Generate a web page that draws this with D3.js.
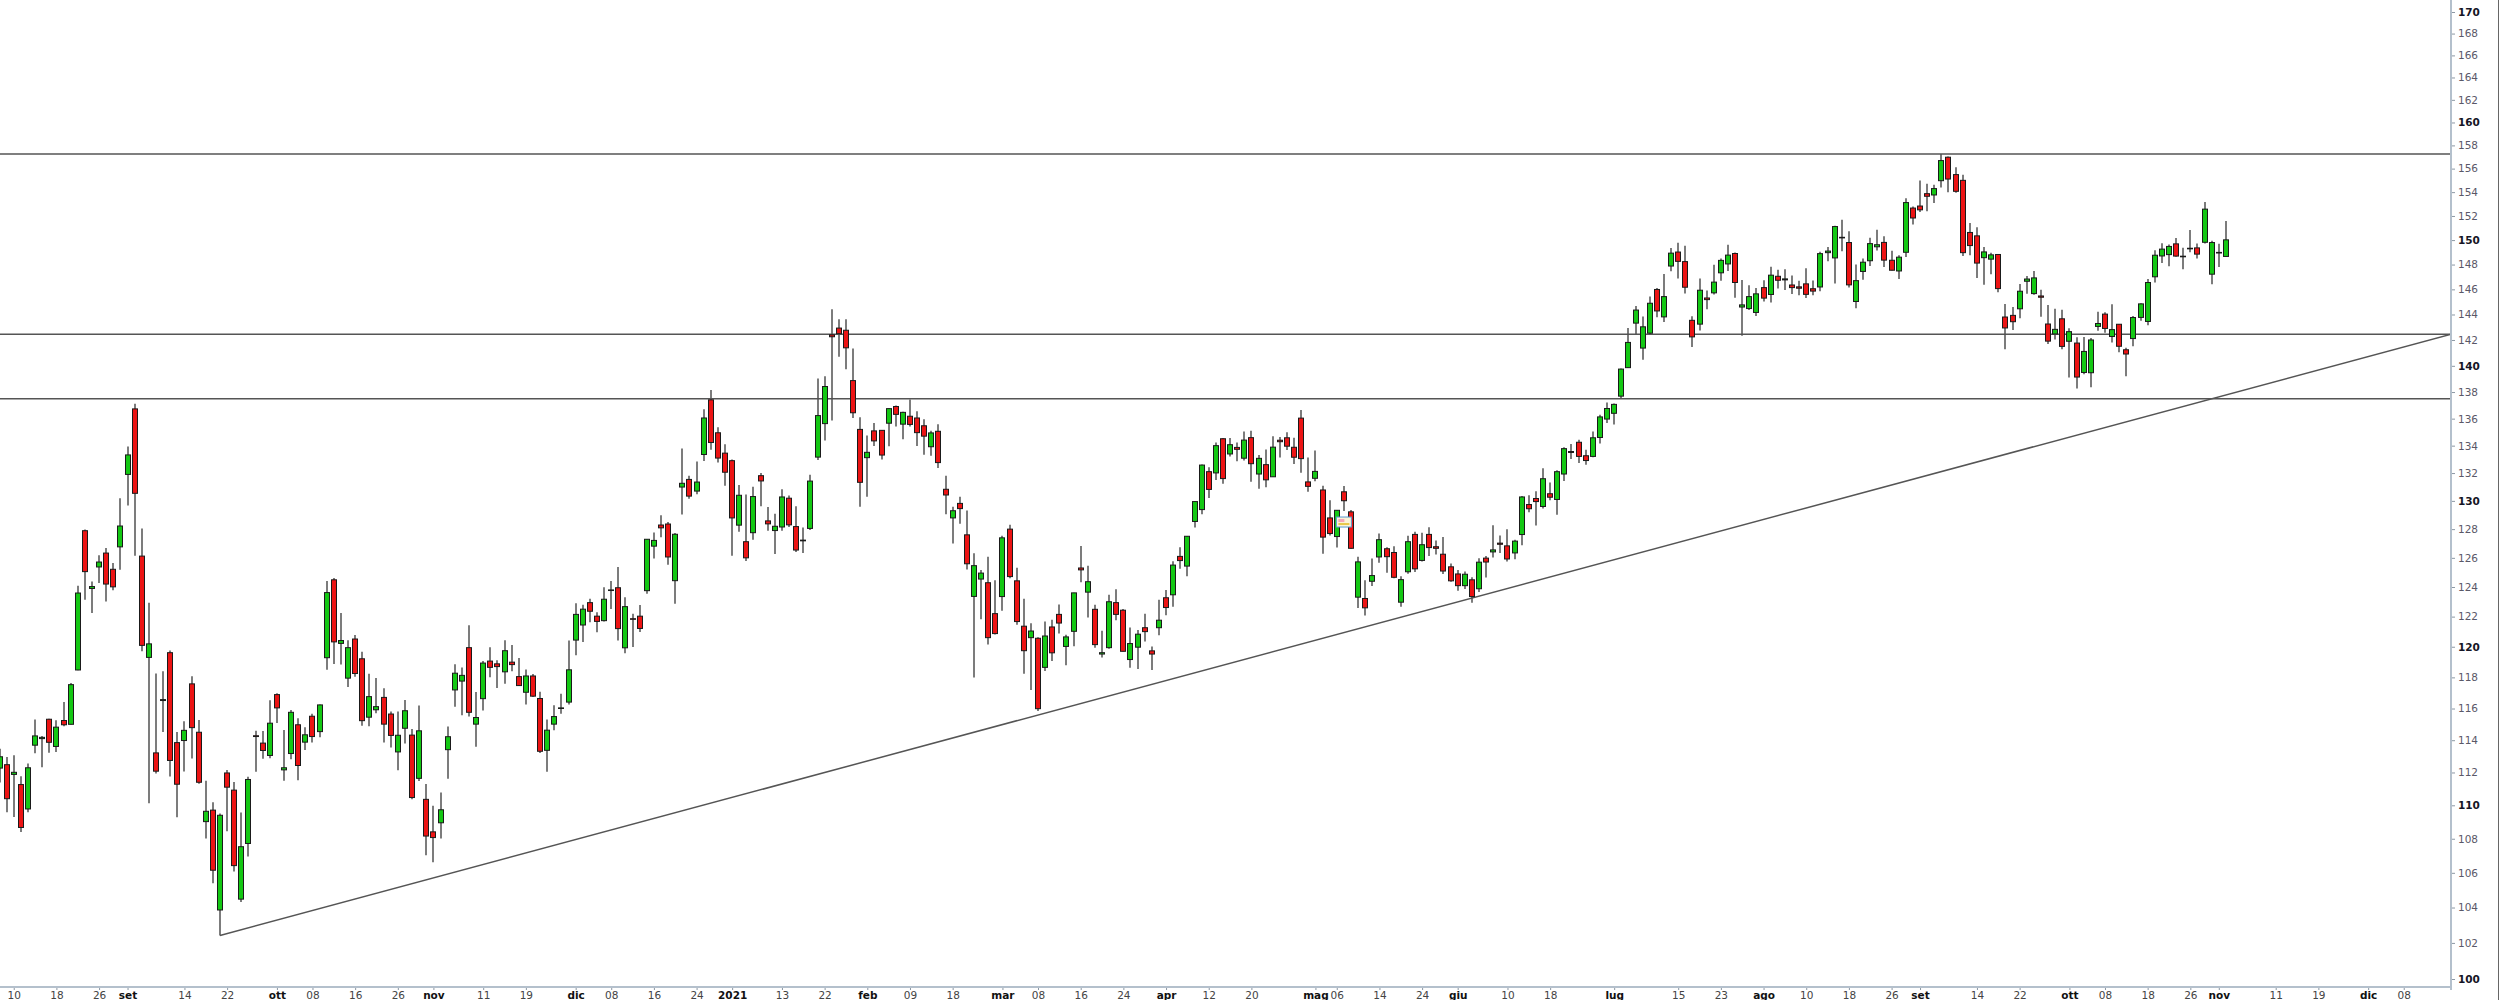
<!DOCTYPE html>
<html><head><meta charset="utf-8">
<script src="https://cdn.jsdelivr.net/npm/d3@7"></script>
<style>
body{margin:0;background:#fff}
svg{display:block;font-family:"DejaVu Sans",Verdana,sans-serif}
</style>
</head><body>
<svg id="c" width="2500" height="1000"></svg>
<script>
// ---- daily candles: [day, open, high, low, close] ----
const aug2020 = [
[6,112.27,113.46,111.38,112.97],[7,112.48,112.95,109.58,110.40],[10,111.88,113.06,109.30,112.01],
[11,111.26,111.77,108.40,108.67],[12,109.78,112.56,109.58,112.29],[13,113.69,115.30,113.19,114.27],
[14,114.10,114.27,112.32,114.18],[17,115.32,115.35,113.22,113.87],[18,113.61,115.26,113.27,114.82],
[19,115.24,116.42,114.87,114.97],[20,115.00,117.64,114.98,117.53],[21,118.48,124.09,118.47,123.59],
[24,127.89,127.98,123.13,125.05],[25,123.90,124.38,122.25,124.03],[26,125.37,126.18,124.27,125.71],
[27,126.33,126.68,123.02,124.20],[28,125.21,125.64,123.78,124.01],[31,126.76,130.18,125.18,128.22]];
const sep2020 = [
[1,131.90,133.94,129.67,133.32],[2,136.73,137.12,126.14,130.54],[3,126.12,128.05,119.71,120.09],
[4,119.30,122.93,110.12,120.19],[8,113.21,118.25,111.94,112.08],[9,116.51,118.39,114.51,116.57],
[10,119.61,119.75,111.75,112.74],[11,113.85,114.51,109.28,111.28],[14,113.98,115.19,112.06,114.62],
[15,117.58,118.08,112.86,114.79],[16,114.50,115.27,111.31,111.40],[17,109.02,111.50,108.01,109.64],
[18,109.71,110.19,105.40,106.15],[21,103.86,109.51,102.42,109.40],[22,111.97,112.15,108.45,111.10],
[23,110.92,111.41,106.07,106.42],[24,104.48,109.56,104.31,107.53],[25,107.72,111.73,106.96,111.57],
[28,114.28,114.59,112.05,114.23],[29,113.82,114.58,112.84,113.36],[30,113.05,116.52,112.88,115.07]];
const oct2020 = [
[1,116.89,116.97,115.08,116.04],[2,112.16,114.64,111.49,112.29],[5,113.17,115.91,112.81,115.76],
[6,114.97,115.39,111.52,112.43],[7,113.88,114.81,113.39,114.34],[8,115.51,115.66,113.85,114.23],
[9,114.54,116.26,114.18,116.23],[12,119.28,124.40,118.50,123.62],[13,124.49,124.61,118.87,120.32],
[14,120.22,122.25,118.84,120.41],[15,117.95,120.43,117.38,119.94],[16,120.51,120.78,118.04,118.25],
[19,119.21,119.67,114.91,115.23],[20,115.45,118.23,114.88,116.76],[21,115.92,117.96,115.70,116.12],
[22,116.71,117.30,113.85,115.01],[23,115.65,115.81,113.54,114.30],[26,113.27,115.81,112.14,114.31],
[27,114.75,116.54,113.80,115.86],[28,114.32,114.70,110.37,110.47],[29,111.64,116.20,111.47,114.59],
[30,110.36,111.29,107.02,108.16]];
const nov2020 = [
[2,108.41,109.98,106.62,108.07],[3,108.95,110.78,108.02,109.73],[4,113.41,114.86,111.62,114.22],
[5,117.19,118.86,116.11,118.27],[6,117.76,118.64,115.57,118.13],[9,119.94,121.43,115.49,115.76],
[10,115.01,117.05,113.59,115.43],[11,116.63,119.07,115.88,118.93],[12,119.06,119.97,118.01,118.65],
[13,118.88,119.11,117.31,118.70],[16,118.36,120.43,117.59,119.74],[17,118.99,120.11,118.40,118.83],
[18,118.05,119.26,117.44,117.47],[19,117.04,118.51,116.26,118.09],[20,118.09,118.22,116.74,116.79],
[23,116.64,117.08,113.21,113.31],[24,113.37,115.31,112.05,114.63],[25,115.01,116.21,114.63,115.49],
[27,116.02,116.94,115.67,116.04],[30,116.41,120.41,116.25,118.49]];
const dec2020 = [
[1,120.44,122.90,119.44,122.15],[2,121.44,122.79,120.31,122.50],[3,122.94,123.20,121.63,122.36],
[4,122.03,122.29,120.95,121.68],[7,121.73,123.99,121.67,123.17],[8,123.79,124.40,122.51,123.80],
[9,123.95,125.37,120.42,121.20],[10,119.93,123.30,119.58,122.67],[11,121.86,122.19,119.98,121.84],
[14,122.03,122.78,120.97,121.21],[15,123.75,127.31,123.54,127.29],[16,126.81,127.77,125.96,127.21],
[17,128.29,128.97,127.43,128.09],[18,128.36,128.50,125.52,126.06],[21,124.43,127.72,122.86,127.64],
[22,130.99,133.79,129.03,131.26],[23,131.54,131.81,130.16,130.34],[24,130.70,132.84,130.48,131.35],
[28,133.35,136.70,132.87,136.05],[29,137.41,138.15,133.70,134.23],[30,134.95,135.36,132.77,133.09],
[31,133.45,134.11,131.09,132.06]];
const jan2021 = [
[4,132.90,132.99,126.14,128.79],[5,128.28,131.13,127.82,130.40],[6,127.12,130.45,125.78,126.00],
[7,127.75,131.02,127.25,130.31],[8,131.81,132.01,129.61,131.43],[11,128.58,129.56,127.89,128.37],
[12,127.90,129.09,126.26,128.20],[13,128.15,130.84,127.88,130.28],[14,130.19,130.39,128.15,128.30],
[15,128.18,129.62,126.40,126.54],[19,127.18,128.11,126.34,127.23],[20,128.05,131.88,127.94,131.42],
[21,133.16,139.03,132.95,136.23],[22,135.63,139.20,134.37,138.42],[25,142.40,144.42,135.87,142.25],
[26,142.93,143.63,140.70,142.49],[27,142.76,143.63,139.74,141.39],[28,138.87,141.34,136.05,136.44],
[29,135.20,136.11,129.58,131.33]];
const feb2021 = [
[1,133.12,134.75,130.30,133.51],[2,135.09,135.67,133.97,134.35],[3,135.13,135.14,132.98,133.31],
[4,135.66,136.76,133.95,136.75],[5,136.91,136.98,135.42,136.32],[8,135.59,136.52,134.48,136.47],
[9,136.18,137.44,135.41,135.57],[10,136.05,136.56,133.97,134.96],[11,135.47,135.96,133.34,134.70],
[12,133.92,135.10,133.26,134.94],[16,135.06,135.58,132.36,132.76],[17,130.83,131.80,129.05,130.42],
[18,128.79,129.59,127.00,129.30],[19,129.82,130.29,128.38,129.45],[22,127.60,129.31,125.19,125.59],
[23,123.36,126.31,117.99,125.46],[24,124.54,125.16,121.83,124.95],[25,124.29,126.07,120.15,120.60],
[26,122.20,124.46,120.81,120.87]];
const mar2021 = [
[1,123.35,127.53,122.39,127.39],[2,128.00,128.31,124.60,124.71],[3,124.42,125.32,121.45,121.67],
[4,121.36,123.21,118.23,119.74],[5,120.60,121.56,117.19,121.04],[8,120.56,120.63,115.84,115.99],
[9,118.65,121.68,118.41,120.71],[10,121.31,121.79,119.07,119.60],[11,122.15,122.82,120.87,121.57],
[12,120.02,120.79,118.78,120.65],[15,121.02,123.61,120.03,123.60],[16,125.30,126.82,124.32,125.17],
[17,123.65,125.46,121.94,124.36],[18,122.49,122.79,119.93,120.14],[19,119.52,121.05,119.30,119.61],
[22,119.94,123.48,119.87,123.00],[23,122.94,123.85,121.75,122.15],[24,122.43,122.51,119.68,119.70],
[25,119.16,121.28,118.62,120.21],[26,119.97,121.10,118.54,120.83],[29,121.26,122.19,120.34,121.00],
[30,119.73,120.02,118.48,119.52],[31,121.26,123.13,120.76,121.76]];
const apr2021 = [
[1,123.27,123.79,122.10,122.61],[5,123.47,125.76,122.67,125.50],[6,126.10,126.73,125.25,125.81],
[7,125.43,127.52,124.74,127.50],[8,128.54,129.98,128.11,129.95],[9,129.38,132.62,129.05,132.58],
[12,132.10,132.43,130.21,130.82],[13,132.01,134.23,131.50,134.00],[14,134.51,134.57,131.23,131.60],
[15,133.39,134.57,133.21,134.07],[16,133.87,134.24,132.85,133.73],[19,133.08,135.04,132.91,134.41],
[20,134.59,135.10,131.38,132.68],[21,131.93,133.32,130.87,133.07],[22,132.61,133.72,130.98,131.51],
[23,131.73,134.69,131.73,133.89],[26,134.40,134.63,133.13,134.29],[27,134.58,134.98,133.68,133.96],
[28,133.88,134.59,132.65,133.15],[29,136.04,136.64,132.02,133.05],[30,131.36,133.14,130.65,131.04]];
const may2021 = [
[3,131.62,133.65,131.41,132.12],[4,130.78,131.08,126.29,127.44],[5,128.79,130.04,127.56,127.69],
[6,127.48,129.34,126.72,129.33],[7,130.65,131.06,129.28,130.01],[10,129.22,129.35,126.62,126.66],
[11,123.31,126.08,122.58,125.72],[12,123.22,124.46,122.07,122.59],[13,124.39,125.96,124.07,124.78],
[14,126.06,127.70,125.66,127.26],[17,126.63,126.74,124.98,126.08],[18,126.37,126.80,124.59,124.66],
[19,122.97,124.73,122.67,124.50],[20,125.04,127.53,124.91,127.12],[21,127.63,127.81,125.02,125.24],
[24,125.82,127.75,125.75,126.91],[25,127.63,128.13,126.13,126.71],[26,126.77,127.20,126.23,126.66],
[27,126.25,127.45,124.89,125.09],[28,125.38,125.61,124.36,124.42]];
const jun2021 = [
[1,124.89,125.16,123.75,124.09],[2,124.09,125.05,123.86,124.87],[3,124.49,124.66,122.94,123.35],
[4,123.88,125.97,123.66,125.70],[7,125.98,126.13,124.64,125.71],[8,126.41,128.27,126.02,126.55],
[9,127.02,127.56,126.33,126.94],[10,126.83,128.00,125.75,125.92],[11,126.34,127.25,125.91,127.16],
[14,127.62,130.34,126.87,130.28],[15,129.74,130.40,129.19,129.44],[16,130.17,130.69,128.26,129.95],
[17,129.60,132.35,129.45,131.59],[18,130.51,131.31,130.04,130.26],[21,130.10,132.21,129.01,132.10],
[22,131.93,133.88,131.42,133.78],[23,133.57,134.12,133.03,133.50],[24,134.25,134.44,132.73,133.21],
[25,133.26,133.69,132.61,132.91],[28,133.21,135.05,133.15,134.58],[29,134.60,136.29,134.15,136.13],
[30,135.97,137.21,135.67,136.76]];
const jul2021 = [
[1,136.40,137.13,135.56,137.07],[2,137.69,139.79,137.54,139.75],[6,139.86,142.94,139.86,141.81],
[7,143.32,144.67,142.44,144.35],[8,141.37,143.85,140.46,143.03],[9,142.53,145.43,142.43,144.89],
[12,145.99,146.10,143.78,144.28],[13,143.81,147.24,143.41,145.42],[14,147.88,149.35,147.46,148.93],
[15,149.02,149.78,146.87,148.26],[16,148.24,149.54,145.66,146.17],[19,143.54,143.86,141.46,142.24],
[20,143.24,146.88,142.74,145.93],[21,145.31,145.91,144.41,145.18],[22,145.72,147.98,145.59,146.58],
[23,147.33,148.50,146.70,148.34],[26,148.05,149.61,147.48,148.77],[27,148.90,148.99,145.33,146.55],
[28,144.59,146.75,142.32,144.76],[29,144.47,146.33,144.36,145.42],[30,144.16,146.11,143.89,145.64]];
const aug2021 = [
[2,146.14,146.73,145.03,145.30],[3,145.59,147.82,144.96,147.14],[4,147.05,147.57,146.06,146.73],
[5,146.76,147.62,145.95,146.84],[6,146.35,147.11,145.63,146.14],[9,146.20,146.70,145.52,146.09],
[10,146.44,147.71,145.30,145.60],[11,146.05,146.72,145.53,145.86],[12,146.19,149.05,145.84,148.89],
[13,148.97,149.44,148.27,149.10],[16,148.54,151.19,146.47,151.12],[17,150.23,151.68,149.09,150.19],
[18,149.80,150.72,146.15,146.36],[19,145.03,148.00,144.50,146.70],[20,147.44,148.50,146.78,148.19],
[23,148.31,150.19,147.89,149.71],[24,149.45,150.86,149.15,149.62],[25,149.81,150.32,147.80,148.36],
[26,148.35,149.12,147.51,147.54],[27,147.48,148.75,146.83,148.60],[30,149.00,153.49,148.61,153.12],
[31,152.66,152.80,151.29,151.83]];
const sep2021 = [
[1,152.83,154.98,152.34,152.51],[2,153.87,154.72,152.40,153.65],[3,153.76,154.63,153.09,154.30],
[7,154.97,157.26,154.39,156.69],[8,156.98,157.04,153.98,155.11],[9,155.49,156.11,153.95,154.07],
[10,155.00,155.48,148.70,148.97],[13,150.63,151.42,148.75,149.55],[14,150.35,151.07,146.91,148.12],
[15,148.56,149.44,146.37,149.03],[16,148.44,148.97,147.22,148.79],[17,148.82,148.82,145.76,146.06],
[20,143.80,144.84,141.27,142.94],[21,143.93,144.60,142.78,143.43],[22,144.45,146.43,143.70,145.85],
[23,146.65,147.08,145.64,146.83],[24,145.66,147.47,145.56,146.92],[27,145.47,145.96,143.82,145.37],
[28,143.25,144.75,141.69,141.91],[29,142.47,144.45,142.03,142.83],[30,143.66,144.38,141.28,141.50]];
const oct2021 = [
[1,141.90,142.92,139.11,142.65],[4,141.76,142.21,138.27,139.14],[5,139.49,142.24,139.36,141.11],
[6,139.47,142.15,138.37,142.00],[7,143.06,144.22,142.72,143.29],[8,144.03,144.18,142.56,142.90],
[11,142.27,144.81,141.81,142.81],[12,143.23,143.25,141.04,141.51],[13,141.24,141.40,139.20,140.91],
[14,142.11,143.88,141.51,143.76],[15,143.77,144.90,143.51,144.84],[18,143.45,146.84,143.16,146.55],
[19,147.01,149.17,146.55,148.76],[20,148.70,149.75,148.12,149.26],[21,148.81,149.64,147.87,149.48],
[22,149.69,150.18,148.64,148.69],[25,148.68,149.37,147.62,148.64],[26,149.33,150.84,149.01,149.32],
[27,149.36,149.73,148.49,148.85],[28,149.82,153.17,149.72,152.57],[29,147.22,149.94,146.41,149.80]];
const nov2021 = [
[1,148.99,149.70,147.80,148.96],[2,148.66,151.57,148.65,150.02]];

// future (empty) trading days shown on the time axis
const futureNov2021 = [3,4,5,8,9,10,11,12,15,16,17,18,19,22,23,24,26,29,30];
const futureDec2021 = [1,2,3,6,7,8,9,10,13,14,15,16,17];

// x-axis tick labels
const tickDates = ["2020-08-10","2020-08-18","2020-08-26","2020-09-01","2020-09-14","2020-09-22","2020-10-01","2020-10-08","2020-10-16","2020-10-26","2020-11-02","2020-11-11","2020-11-19","2020-12-01","2020-12-08","2020-12-16","2020-12-24","2021-01-04","2021-01-13","2021-01-22","2021-02-01","2021-02-09","2021-02-18","2021-03-01","2021-03-08","2021-03-16","2021-03-24","2021-04-01","2021-04-12","2021-04-20","2021-05-03","2021-05-06","2021-05-14","2021-05-24","2021-06-01","2021-06-10","2021-06-18","2021-07-01","2021-07-15","2021-07-23","2021-08-02","2021-08-10","2021-08-18","2021-08-26","2021-09-01","2021-09-14","2021-09-22","2021-10-01","2021-10-08","2021-10-18","2021-10-26","2021-11-01","2021-11-11","2021-11-19","2021-12-01","2021-12-08"];
const tickLabels = ["10","18","26","set","14","22","ott","08","16","26","nov","11","19","dic","08","16","24","2021","13","22","feb","09","18","mar","08","16","24","apr","12","20","mag","06","14","24","giu","10","18","lug","15","23","ago","10","18","26","set","14","22","ott","08","18","26","nov","11","19","dic","08"];
const boldLabels = ["set","ott","nov","dic","2021","feb","mar","apr","mag","giu","lug","ago"];

// price axis ticks (log scale)
const priceTicks = d3.range(100, 171, 2);

// drawn study lines
const levels = [157.25, 142.45, 137.5];
const trendStart = {date:"2020-09-21", price:102.42};
const trendEnd = {date:"2021-12-17", price:142.5};
const eventMarks = [{date:"2021-05-07", price:128.5}];

// ---- build ----
const months = [["2020-08",aug2020],["2020-09",sep2020],["2020-10",oct2020],["2020-11",nov2020],["2020-12",dec2020],
["2021-01",jan2021],["2021-02",feb2021],["2021-03",mar2021],["2021-04",apr2021],["2021-05",may2021],["2021-06",jun2021],
["2021-07",jul2021],["2021-08",aug2021],["2021-09",sep2021],["2021-10",oct2021],["2021-11",nov2021]];
const pad = d => String(d).padStart(2,"0");
const candles = [];
months.forEach(([ym, rows]) => rows.forEach(r => candles.push({date: ym+"-"+pad(r[0]), o:r[1], h:r[2], l:r[3], c:r[4]})));
const allDates = candles.map(d => d.date)
  .concat(futureNov2021.map(d => "2021-11-"+pad(d)))
  .concat(futureDec2021.map(d => "2021-12-"+pad(d)));
const idx = new Map(allDates.map((d,i) => [d,i]));

const plotRight = 2451, plotBottom = 987;
const x = d3.scaleLinear().domain([0, 313]).range([-0.5, 2225.9]);
const y = d3.scaleLog().domain([100, 170]).range([979, 12]);

const svg = d3.select("#c");
svg.append("rect").attr("width",2500).attr("height",1000).attr("fill","#fff");
svg.append("defs").append("clipPath").attr("id","plot")
  .append("rect").attr("x",0).attr("y",0).attr("width",plotRight).attr("height",plotBottom);

const plot = svg.append("g").attr("clip-path","url(#plot)");

// horizontal levels
plot.selectAll("line.level").data(levels).join("line").attr("class","level")
  .attr("x1",0).attr("x2",plotRight)
  .attr("y1",d=>y(d)).attr("y2",d=>y(d))
  .attr("stroke","#555").attr("stroke-width",1.5);

// trend line
plot.append("line")
  .attr("x1", x(idx.get(trendStart.date))).attr("y1", y(trendStart.price))
  .attr("x2", x(idx.get(trendEnd.date))).attr("y2", y(trendEnd.price))
  .attr("stroke","#555").attr("stroke-width",1.5);

// candles
const cg = plot.append("g");
const cx = d => Math.round(x(idx.get(d.date)));
cg.selectAll("line.wick").data(candles).join("line").attr("class","wick")
  .attr("x1",cx).attr("x2",cx)
  .attr("y1",d=>y(d.h)).attr("y2",d=>y(d.l))
  .attr("stroke","#505050").attr("stroke-width",1.5);
cg.selectAll("rect.body").data(candles).join("rect").attr("class","body")
  .attr("x",d=>cx(d)-2.5).attr("width",5)
  .attr("y",d=>y(Math.max(d.o,d.c)))
  .attr("height",d=>Math.max(0.6, Math.abs(y(d.o)-y(d.c))))
  .attr("fill",d=>d.c>=d.o ? "#14c814" : "#ec1414")
  .attr("stroke","#1a1a1a").attr("stroke-width",1);

// event icon
eventMarks.forEach(m => {
  const ex = x(idx.get(m.date)), ey = y(m.price);
  const g = plot.append("g").attr("transform",`translate(${ex-7.5},${ey-5})`);
  g.append("rect").attr("width",15).attr("height",10).attr("fill","#fbf3d6").attr("stroke","#5b9bd5").attr("stroke-width",1);
  g.append("rect").attr("x",2).attr("y",2).attr("width",6).attr("height",3).attr("fill","#f4a6b8");
  g.append("rect").attr("x",2).attr("y",6).attr("width",11).attr("height",2).attr("fill","#e8c84a");
});

// right (price) axis
const yAxis = d3.axisRight(y).tickValues(priceTicks).tickFormat(d3.format("d"))
  .tickSizeInner(4).tickSizeOuter(0).tickPadding(3);
const gy = svg.append("g").attr("transform",`translate(${plotRight},0)`).call(yAxis);
gy.select(".domain").remove();
gy.selectAll(".tick line").attr("stroke","#8c98a4");
gy.selectAll(".tick text")
  .attr("font-family","DejaVu Sans, Verdana, sans-serif")
  .attr("font-size",10.5)
  .attr("font-weight",d=>d%10===0?"bold":"normal")
  .attr("fill",d=>d%10===0?"#151525":"#5a5868");

// bottom (time) axis
const tickIdx = tickDates.map(d => idx.get(d));
const labelOf = new Map(tickIdx.map((t,i)=>[t,tickLabels[i]]));
const xAxis = d3.axisBottom(x).tickValues(tickIdx).tickFormat(t=>labelOf.get(t))
  .tickSizeInner(3).tickSizeOuter(0).tickPadding(2);
const gx = svg.append("g").attr("transform",`translate(0,${plotBottom})`).call(xAxis);
gx.select(".domain").remove();
gx.selectAll(".tick line").attr("stroke","#8c98a4");
gx.selectAll(".tick text")
  .attr("font-family","DejaVu Sans, Verdana, sans-serif")
  .attr("font-size",10.5)
  .attr("font-weight",t=>boldLabels.includes(labelOf.get(t))?"bold":"normal")
  .attr("fill",t=>boldLabels.includes(labelOf.get(t))?"#111":"#444");

// axis frame lines
svg.append("line").attr("x1",plotRight).attr("x2",plotRight).attr("y1",0).attr("y2",990)
  .attr("stroke","#b4c0cc").attr("stroke-width",2);
svg.append("line").attr("x1",0).attr("x2",plotRight).attr("y1",plotBottom).attr("y2",plotBottom)
  .attr("stroke","#b4c0cc").attr("stroke-width",2);
svg.append("line").attr("x1",2498.5).attr("x2",2498.5).attr("y1",0).attr("y2",1000)
  .attr("stroke","#666").attr("stroke-width",1);
</script>
</body></html>
